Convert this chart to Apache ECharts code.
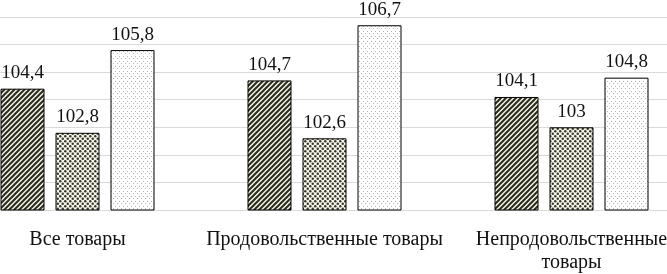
<!DOCTYPE html>
<html><head><meta charset="utf-8">
<script src="https://cdn.jsdelivr.net/npm/echarts@6/dist/echarts.min.js"></script>
<style>html,body{margin:0;padding:0;background:#fff;overflow:hidden;width:667px;height:274px;position:relative}#c{position:absolute;left:-46.5px;top:0;width:741px;height:274px}</style>
</head><body><div id="c"></div>
<script>
const categories = ['Все товары', 'Продовольственные товары', 'Непродовольственные\nтовары'];
const series1 = [104.4, 104.7, 104.1];
const series2 = [102.8, 102.6, 103];
const series3 = [105.8, 106.7, 104.8];

function mk(w, h, draw) {
  const c = document.createElement('canvas');
  c.width = w; c.height = h;
  const g = c.getContext('2d');
  draw(g, w, h);
  return c;
}
const stripe = mk(5, 5, (g, w, h) => {
  g.fillStyle = '#f4f4e6'; g.fillRect(0, 0, w, h);
  g.strokeStyle = '#2a2a1e'; g.lineWidth = 2;
  g.beginPath();
  g.moveTo(-1, h + 1); g.lineTo(w + 1, -1);
  g.moveTo(-1, 1); g.lineTo(1, -1);
  g.moveTo(w - 1, h + 1); g.lineTo(w + 1, h - 1);
  g.stroke();
});
const dots = mk(5, 5, (g, w, h) => {
  g.fillStyle = '#f6f6ec'; g.fillRect(0, 0, w, h);
  g.fillStyle = '#3a3a2e';
  [[1.25, 1.25], [3.75, 3.75]].forEach(([x, y]) => { g.beginPath(); g.arc(x, y, 1.25, 0, Math.PI * 2); g.fill(); });
});
const light = mk(4, 5, (g, w, h) => {
  g.fillStyle = '#ffffff'; g.fillRect(0, 0, w, h);
  g.fillStyle = '#b8b8b0';
  g.fillRect(1, 1, 1, 1); g.fillRect(3, 3, 1, 1);
});

const font = "'Liberation Serif', 'Times New Roman', 'DejaVu Serif', serif";
const lab = {
  show: true, position: 'top', distance: 6, color: '#111', fontFamily: font, fontSize: 19,
  formatter: p => String(p.value).replace('.', ',')
};
const mkSeries = (data, img) => ({
  type: 'bar', data, barWidth: 44, barGap: '25%',
  itemStyle: { color: { image: img, repeat: 'repeat' }, borderColor: '#000', borderWidth: 1 },
  label: lab
});
const chart = echarts.init(document.getElementById('c'));
chart.setOption({
  animation: false,
  textStyle: { fontFamily: font },
  grid: { left: 0, right: 0, top: 17, bottom: 59 },
  xAxis: {
    type: 'category', data: categories,
    axisLine: { lineStyle: { color: '#d9d9d9' } }, axisTick: { show: false },
    axisLabel: { color: '#111', fontFamily: font, fontSize: 20, margin: 18, lineHeight: 23, interval: 0 }
  },
  yAxis: {
    type: 'value', min: 100, max: 107, interval: 1,
    axisLabel: { show: false }, axisLine: { show: false }, axisTick: { show: false },
    splitLine: { lineStyle: { color: '#d9d9d9' } }
  },
  series: [mkSeries(series1, stripe), mkSeries(series2, dots), mkSeries(series3, light)]
});
</script></body></html>
